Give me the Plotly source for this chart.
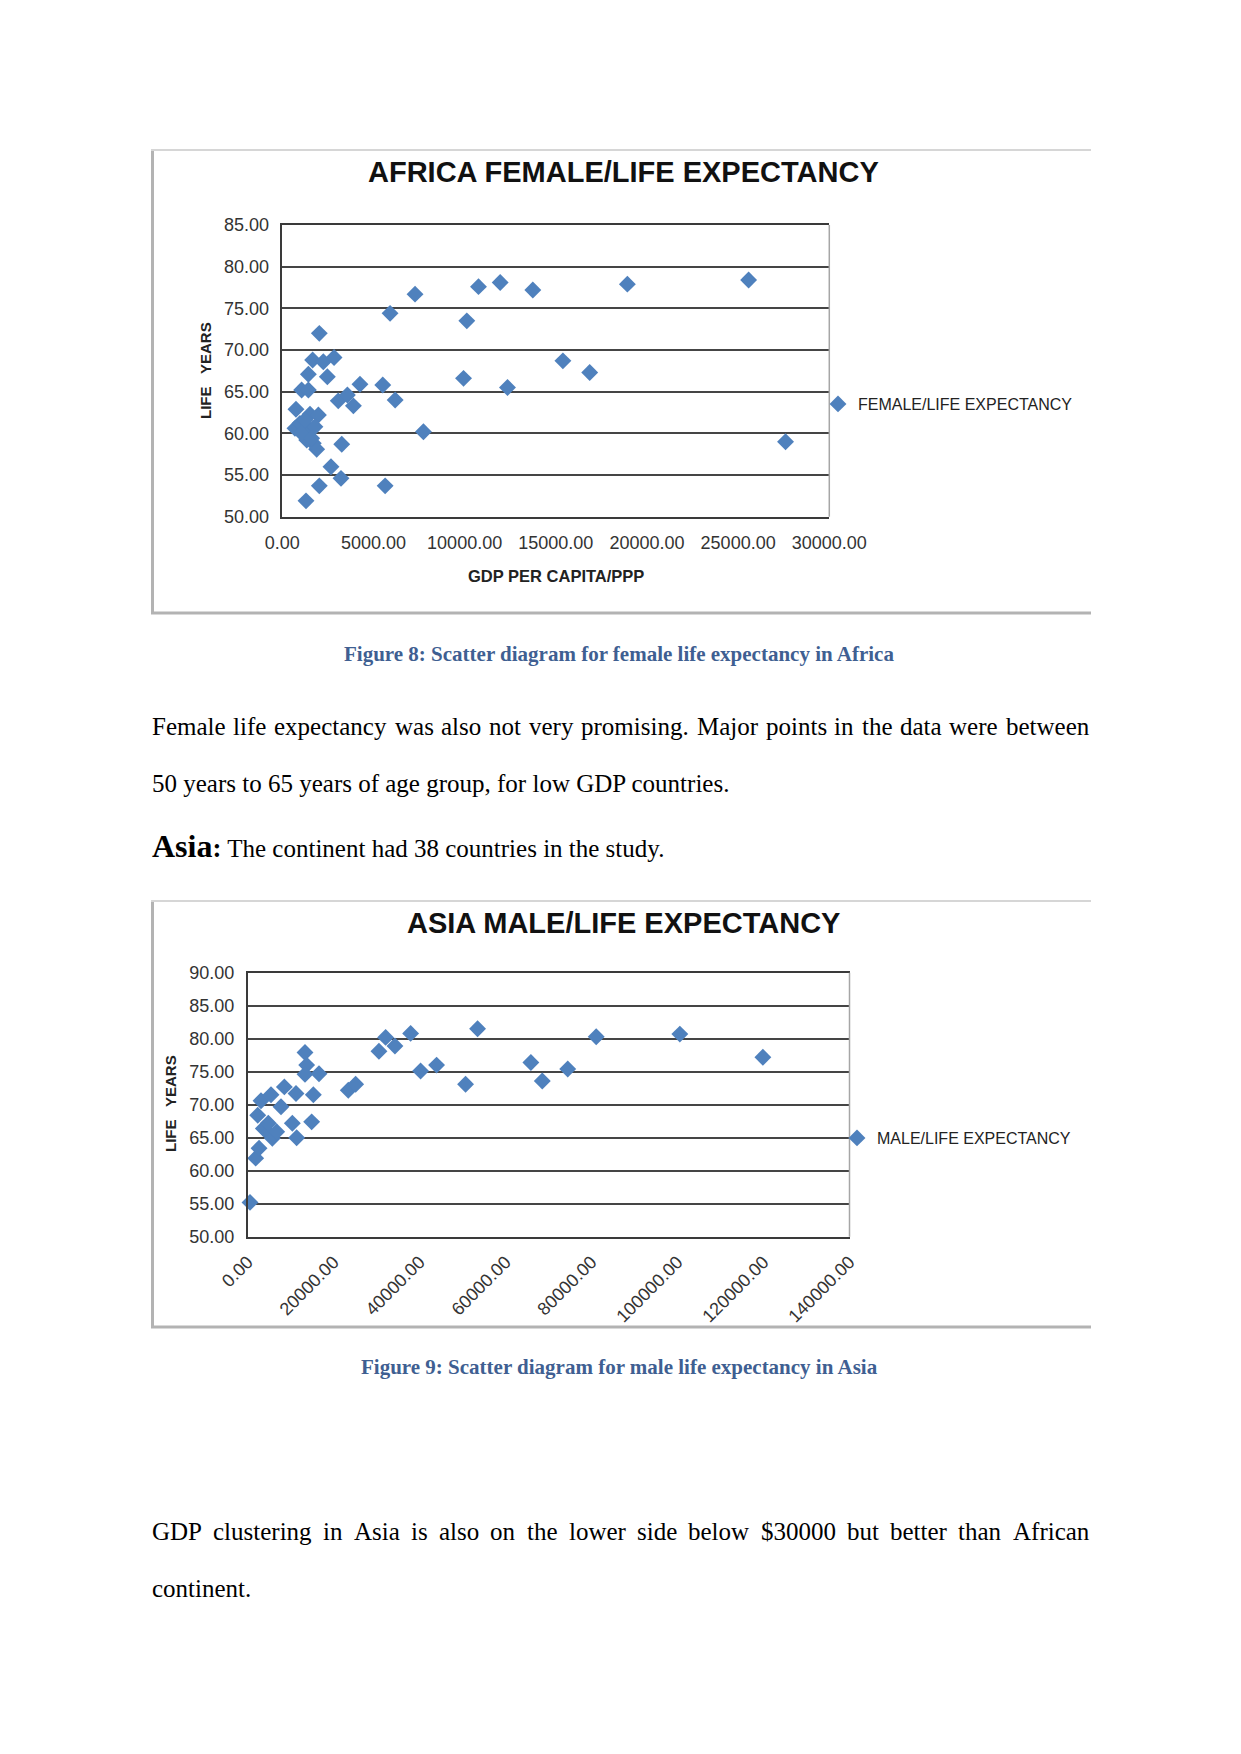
import plotly.graph_objects as go

W, H = 1241, 1754

# ---------------- data ----------------
africa_gdp = [2030, 1665, 2250, 2840, 1430, 2470, 1060, 1430, 4260, 5510, 6190, 3070, 3570, 3900,
              750, 1520, 1980, 695, 1150, 1520, 1790, 1340, 1885, 3260, 7740, 2670, 3220, 2030,
              5640, 1300, 5910, 7280, 10120, 9940, 10760, 11950, 13740, 12350, 15390, 16860,
              18925, 25575, 27600, 970, 1240, 1700, 1060, 1610]
africa_life = [72.0, 68.8, 68.6, 69.1, 67.1, 66.8, 65.2, 65.2, 65.9, 65.8, 64.0, 63.9, 64.6, 63.3,
               62.9, 62.3, 62.2, 60.6, 60.2, 60.4, 60.8, 59.2, 58.1, 58.7, 60.2, 56.0, 54.6, 53.7,
               53.7, 51.9, 74.4, 76.7, 73.5, 66.6, 77.6, 78.1, 77.2, 65.5, 68.7, 67.3,
               77.9, 78.4, 59.0, 61.2, 61.6, 58.8, 60.0, 59.4]

asia_gdp = [540, 1860, 2640, 2330, 3100, 5425, 8525, 11240, 7750, 15270, 14880, 10385, 11390, 3640,
            4800, 5735, 6740, 4800, 13330, 13720, 13330, 16585, 23400, 25110, 30535, 32085, 34255,
            37900, 40220, 43940, 53475, 50685, 65875, 68530, 74450, 81075, 100530, 119850]
asia_life = [55.2, 61.9, 63.4, 68.4, 70.6, 71.5, 72.7, 71.7, 69.7, 71.5, 67.4, 67.2, 65.0, 66.4,
             65.7, 64.9, 65.9, 67.2, 77.9, 76.0, 74.6, 74.7, 72.2, 73.1, 78.1, 80.2, 78.9,
             80.8, 75.1, 76.0, 81.5, 73.1, 76.4, 73.6, 75.4, 80.3, 80.7, 77.2]

title1 = "AFRICA FEMALE/LIFE EXPECTANCY"
title2 = "ASIA MALE/LIFE EXPECTANCY"
series1 = "FEMALE/LIFE EXPECTANCY"
series2 = "MALE/LIFE EXPECTANCY"
xtitle1 = "GDP PER CAPITA/PPP"
ytitle = "LIFE\u00a0\u00a0\u00a0YEARS"
caption1 = "Figure 8: Scatter diagram for female life expectancy in Africa"
caption2 = "Figure 9: Scatter diagram for male life expectancy in Asia"
para1_line1 = "Female life expectancy was also not very promising. Major points in the data were between"
para1_line2 = "50 years to 65 years of age group, for low GDP countries."
asia_rest = " The continent had 38 countries in the study."
para2_line1 = "GDP clustering in Asia is also on the lower side below $30000 but better than African"
para2_line2 = "continent."

# ---------------- helpers ----------------
OFF = 8  # page body margin of the html page

def px(x):
    return (x - OFF) / W

def py(y):
    return 1 - (y - OFF) / H

# Times New Roman (Liberation Serif) advance widths, 1/1000 em
TW = {' ': 250, '$': 500, ',': 250, '.': 250, ':': 278}
TW.update({d: 500 for d in '0123456789'})
TW.update(dict(A=722, B=667, C=667, D=722, E=611, F=556, G=722, H=722, I=333, J=389, K=722,
               L=611, M=889, N=722, O=722, P=556, Q=722, R=667, S=556, T=611, U=722, V=722,
               W=944, X=722, Y=722, Z=611))
TW.update(dict(a=444, b=500, c=444, d=500, e=444, f=333, g=500, h=500, i=278, j=278, k=500,
               l=278, m=778, n=500, o=500, p=500, q=500, r=333, s=389, t=278, u=500, v=500,
               w=722, x=500, y=500, z=444))

def word_w(w, size):
    return sum(TW.get(c, 500) for c in w) * size / 1000.0

SERIF = "Liberation Serif"
SANS = "Liberation Sans"
BLUE = "#4F81BD"
TXT = "#262626"

fig = go.Figure()

fig.add_trace(go.Scatter(
    x=africa_gdp, y=africa_life, mode="markers", name=series1,
    marker=dict(symbol="diamond", size=13, color=BLUE, line=dict(width=0)),
    xaxis="x", yaxis="y", legend="legend", cliponaxis=False))
fig.add_trace(go.Scatter(
    x=asia_gdp, y=asia_life, mode="markers", name=series2,
    marker=dict(symbol="diamond", size=13, color=BLUE, line=dict(width=0)),
    xaxis="x2", yaxis="y2", legend="legend2", cliponaxis=False))

tickfont = dict(family=SANS, size=18, color="#333333")
gridc = "#454545"
axc = "#3a3a3a"

common_y = dict(showgrid=True, gridcolor=gridc, gridwidth=2, dtick=5, tickformat=".2f",
                tickfont=tickfont, showline=True, linecolor=axc, linewidth=1.5,
                ticks="", zeroline=False, ticklabelstandoff=8, fixedrange=True,
                automargin=False)
common_x = dict(showgrid=False, tickformat=".2f", tickfont=tickfont, showline=True,
                linecolor=axc, linewidth=1.5, mirror=True, ticks="", zeroline=False,
                fixedrange=True, automargin=False)

annotations = []
shapes = []

# ---------- chart 1 geometry (pixels) ----------
c1_l, c1_r, c1_t, c1_b = 282.3, 829.3, 225.0, 516.7
# ---------- chart 2 geometry ----------
c2_l, c2_r, c2_t, c2_b = 247.7, 849.5, 972.7, 1236.7

fig.update_layout(
    xaxis=dict(domain=[px(c1_l), px(c1_r)], range=[0, 30000], dtick=5000, anchor="y",
               ticklabelstandoff=9, **common_x),
    yaxis=dict(domain=[py(c1_b), py(c1_t)], range=[50, 85], anchor="x", **common_y),
    xaxis2=dict(domain=[px(c2_l), px(c2_r)], range=[0, 140000], dtick=20000, anchor="y2",
                tickangle=-45, ticklabelstandoff=6, **common_x),
    yaxis2=dict(domain=[py(c2_b), py(c2_t)], range=[50, 90], anchor="x2", **common_y),
)

# right edges of plot areas (light gray)
for xr, yr in (("x domain", "y domain"), ("x2 domain", "y2 domain")):
    shapes.append(dict(type="line", xref=xr, yref=yr, x0=1, x1=1, y0=0, y1=1,
                       line=dict(color="#a6a6a6", width=1.5)))

# chart frames
for (top, bot) in ((150, 613), (901, 1327)):
    shapes.append(dict(type="line", xref="paper", yref="paper", x0=px(152.5), x1=px(152.5),
                       y0=py(top), y1=py(bot + 1), line=dict(color="#b3b3b3", width=3)))
    shapes.append(dict(type="line", xref="paper", yref="paper", x0=px(151), x1=px(1091),
                       y0=py(bot), y1=py(bot), line=dict(color="#b3b3b3", width=3)))
    shapes.append(dict(type="line", xref="paper", yref="paper", x0=px(151), x1=px(1091),
                       y0=py(top), y1=py(top), line=dict(color="#d6d6d6", width=2)))

def ann(text, x, y, size, family=SANS, color=TXT, xanchor="center", yanchor="middle",
        angle=0, bold=False):
    annotations.append(dict(
        text=("<b>%s</b>" % text) if bold else text, x=px(x), y=py(y),
        xref="paper", yref="paper", showarrow=False, xanchor=xanchor, yanchor=yanchor,
        textangle=angle, font=dict(family=family, size=size, color=color), borderpad=0))

# chart titles / axis titles
ann(title1, 623, 172, 29, color="#111111", bold=True)
ann(title2, 623, 923, 29, color="#111111", bold=True)
ann(xtitle1, 556, 576, 16.5, color="#222222", bold=True)
ann(ytitle, 205, 371, 15, color="#222222", angle=-90, bold=True)
ann(ytitle, 170, 1104, 15, color="#222222", angle=-90, bold=True)

# captions
CAP = "#3F5F92"
ann(caption1, 619, 654, 21, family=SERIF, color=CAP, bold=True)
ann(caption2, 619, 1367, 21, family=SERIF, color=CAP, bold=True)

# justified text lines
def justified(line, y, x0=151, x1=1088, size=25):
    words = line.split(" ")
    widths = [word_w(w, size) for w in words]
    gap = (x1 - x0 - sum(widths)) / (len(words) - 1)
    x = x0
    for w, ww in zip(words, widths):
        ann(w, x, y, size, family=SERIF, color="#000000", xanchor="left")
        x += ww + gap

justified(para1_line1, 726)
ann(para1_line2, 151, 783, 25, family=SERIF, color="#000000", xanchor="left")
annotations.append(dict(
    text="<b><span style='font-size:32px'>Asia</span><span style='font-size:27px'>:</span></b>" + asia_rest,
    x=px(151), y=py(846), xref="paper", yref="paper", showarrow=False, xanchor="left",
    yanchor="middle", font=dict(family=SERIF, size=25, color="#000000"), borderpad=0))
justified(para2_line1, 1531)
ann(para2_line2, 151, 1588, 25, family=SERIF, color="#000000", xanchor="left")

legfont = dict(family=SANS, size=16, color="#222222")
fig.update_layout(
    width=W, height=H, autosize=False,
    margin=dict(l=0, r=0, t=0, b=0, pad=0, autoexpand=False),
    paper_bgcolor="white", plot_bgcolor="white",
    showlegend=True,
    legend=dict(x=px(818), y=py(404), xanchor="left", yanchor="middle", font=legfont,
                bgcolor="rgba(0,0,0,0)", itemwidth=30, borderwidth=0),
    legend2=dict(x=px(837), y=py(1138), xanchor="left", yanchor="middle", font=legfont,
                 bgcolor="rgba(0,0,0,0)", itemwidth=30, borderwidth=0),
    annotations=annotations, shapes=shapes,
)

fig.write_html("out.html", config={"displayModeBar": False})
